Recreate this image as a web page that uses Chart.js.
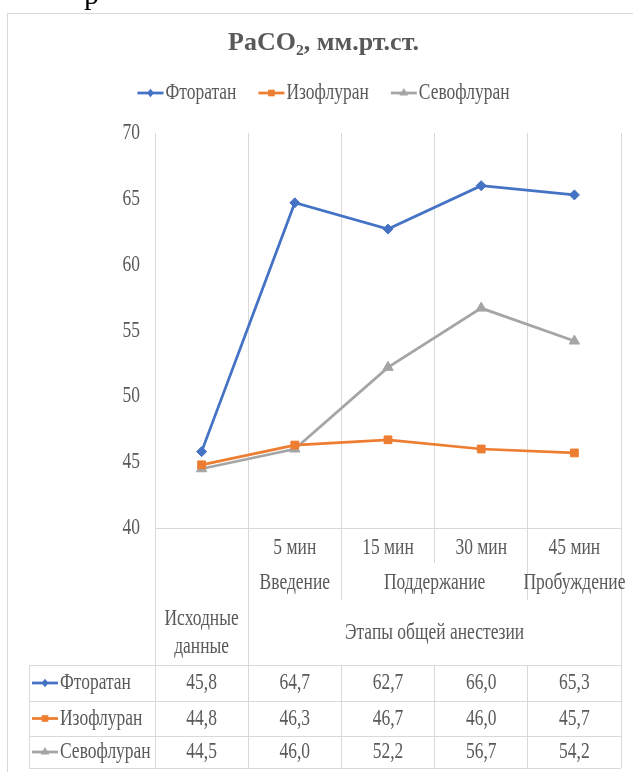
<!DOCTYPE html>
<html>
<head>
<meta charset="utf-8">
<title>PaCO2</title>
<script src="https://cdn.jsdelivr.net/npm/chart.js@4.4.1/dist/chart.umd.min.js"></script>
<style>
  html, body { margin: 0; padding: 0; background: #fff; overflow: hidden; }
  #wrap { position: relative; width: 633px; height: 772px; overflow: hidden; }
  #frag { position: absolute; left: 84px; top: -21px; font: 30px/30px "Liberation Serif", serif; color: #000; }
  canvas { display: block; }
</style>
</head>
<body>
<div id="wrap">
  <div id="frag">р</div>
  <canvas id="chart" width="633" height="772"></canvas>
</div>
<script>
// ---- data ----
const categories = [['Исходные', 'данные'], '5 мин', '15 мин', '30 мин', '45 мин'];
const phaseLabels = ['Введение', 'Поддержание', 'Пробуждение'];
const phaseFirst = [1, 2, 4];
const phaseLast = [1, 3, 4];
const stageLabel = 'Этапы общей анестезии';
const seriesNames = ['Фторатан', 'Изофлуран', 'Севофлуран'];
const ftoratan = [45.8, 64.7, 62.7, 66.0, 65.3];
const isofluran = [44.8, 46.3, 46.7, 46.0, 45.7];
const sevofluran = [44.5, 46.0, 52.2, 56.7, 54.2];
const yMin = 40, yMax = 70, yStep = 5;

// ---- styling ----
const FONT = '"Liberation Serif", "Times New Roman", serif';
const TEXT = '#595959';
const GRID = '#d9d9d9';
const SQUEEZE = 0.76;      // narrow label lettering
const LABEL_SIZE = 23;
const seriesColors = ['#4472C4', '#ED7D31', '#A5A5A5'];
const seriesMarkers = ['rectRot', 'rect', 'triangle'];
const markerRadius = [5, 5.5, 6];
const seriesValues = [ftoratan, isofluran, sevofluran];

// label band / table geometry below the plot
const LEVEL_Y = [548, 583, 633];
const LEVEL_BOTTOM = [563, 600];
const FIRST_CAT_Y = [619, 647];
const TABLE_ROWS = [665, 701, 736, 768];
const TABLE_LEFT = 29;

function squeezed(ctx, text, x, y, align, size, color) {
  ctx.save();
  ctx.font = (size || LABEL_SIZE) + 'px ' + FONT;
  ctx.fillStyle = color || TEXT;
  ctx.textBaseline = 'middle';
  ctx.textAlign = align;
  ctx.translate(x, y);
  ctx.scale(SQUEEZE, 1);
  ctx.fillText(text, 0, 0);
  ctx.restore();
}
function squeezedWidth(ctx, text, size) {
  ctx.save();
  ctx.font = (size || LABEL_SIZE) + 'px ' + FONT;
  const w = ctx.measureText(text).width * SQUEEZE;
  ctx.restore();
  return w;
}
function marker(ctx, style, cx, cy, r, color) {
  ctx.save();
  ctx.fillStyle = color;
  ctx.beginPath();
  if (style === 'rectRot') {
    ctx.moveTo(cx - r * 0.8, cy); ctx.lineTo(cx, cy - r);
    ctx.lineTo(cx + r * 0.8, cy); ctx.lineTo(cx, cy + r);
  } else if (style === 'rect') {
    const h = r * Math.SQRT1_2;
    ctx.rect(cx - h, cy - h, 2 * h, 2 * h);
  } else {
    ctx.moveTo(cx, cy - r);
    ctx.lineTo(cx + r * Math.sin(2 * Math.PI / 3), cy + r * 0.5);
    ctx.lineTo(cx - r * Math.sin(2 * Math.PI / 3), cy + r * 0.5);
  }
  ctx.closePath();
  ctx.fill();
  ctx.restore();
}
const KEY_W = 26;
function legendKey(ctx, k, x, y) {
  ctx.save();
  ctx.strokeStyle = seriesColors[k];
  ctx.lineWidth = 2.75;
  ctx.beginPath();
  ctx.moveTo(x, y); ctx.lineTo(x + KEY_W, y);
  ctx.stroke();
  ctx.restore();
  marker(ctx, seriesMarkers[k], x + KEY_W / 2, y, markerRadius[k] * 0.85, seriesColors[k]);
}
function hline(ctx, x0, x1, y) {
  const Y = Math.round(y - 0.5) + 0.5;
  ctx.beginPath(); ctx.moveTo(x0, Y); ctx.lineTo(x1, Y); ctx.stroke();
}
function vline(ctx, x, y0, y1) {
  const X = Math.round(x - 0.5) + 0.5;
  ctx.beginPath(); ctx.moveTo(X, y0); ctx.lineTo(X, y1); ctx.stroke();
}
const fmt = v => v.toFixed(1).replace('.', ',');

const chartFrame = {
  id: 'chartFrame',
  beforeDraw(chart) {
    const ctx = chart.ctx;
    ctx.save();
    ctx.strokeStyle = GRID;
    ctx.lineWidth = 1;
    ctx.strokeRect(7.5, 13.5, 700, 800);
    ctx.restore();
  }
};

const axisAndTable = {
  id: 'axisAndTable',
  afterDraw(chart) {
    const ctx = chart.ctx;
    const a = chart.chartArea;
    const x = chart.scales.x, y = chart.scales.y;
    const n = categories.length;
    const px = i => x.getPixelForValue(i);
    const edge = i => i === 0 ? a.left : (i === n ? a.right : (px(i - 1) + px(i)) / 2);

    // value-axis labels
    y.ticks.forEach(t => squeezed(ctx, String(t.value), a.left - 15, y.getPixelForValue(t.value), 'right'));

    // legend above the plot
    const legendY = 93, gap = 22;
    const widths = seriesNames.map(s => KEY_W + 2 + squeezedWidth(ctx, s));
    const total = widths.reduce((p, w) => p + w, 0) + gap * (widths.length - 1);
    let lx = (chart.chartArea.right + chart.options.layout.padding.left) / 2 - total / 2;
    seriesNames.forEach((s, k) => {
      legendKey(ctx, k, lx, legendY);
      squeezed(ctx, s, lx + KEY_W + 2, legendY, 'left');
      lx += widths[k] + gap;
    });

    // separators of the category band and the table grid
    ctx.save();
    ctx.strokeStyle = GRID;
    ctx.lineWidth = 1;
    const tableBottom = TABLE_ROWS[TABLE_ROWS.length - 1];
    for (let i = 0; i <= n; i++) {
      let bottom = LEVEL_BOTTOM[0];
      if (phaseFirst.includes(i) || phaseLast.map(k => k + 1).includes(i)) bottom = LEVEL_BOTTOM[1];
      if (i <= 1 || i === n) bottom = tableBottom;
      vline(ctx, edge(i), a.bottom, bottom);
      vline(ctx, edge(i), TABLE_ROWS[0], tableBottom);
    }
    vline(ctx, TABLE_LEFT, TABLE_ROWS[0], tableBottom);
    TABLE_ROWS.forEach(ry => hline(ctx, TABLE_LEFT, a.right, ry));
    ctx.restore();

    // category band text
    for (let i = 1; i < n; i++) squeezed(ctx, categories[i], px(i), LEVEL_Y[0], 'center');
    categories[0].forEach((line, j) => squeezed(ctx, line, px(0), FIRST_CAT_Y[j], 'center'));
    phaseLabels.forEach((p, k) => squeezed(ctx, p, (px(phaseFirst[k]) + px(phaseLast[k])) / 2, LEVEL_Y[1], 'center'));
    squeezed(ctx, stageLabel, (px(1) + px(n - 1)) / 2, LEVEL_Y[2], 'center');

    // data table rows
    seriesNames.forEach((s, k) => {
      const cy = (TABLE_ROWS[k] + TABLE_ROWS[k + 1]) / 2;
      legendKey(ctx, k, TABLE_LEFT + 3, cy);
      squeezed(ctx, s, TABLE_LEFT + KEY_W + 5, cy, 'left');
      seriesValues[k].forEach((v, i) => squeezed(ctx, fmt(v), px(i), cy, 'center'));
    });
  }
};

const datasets = seriesNames.map((name, k) => ({
  label: name,
  data: seriesValues[k],
  borderColor: seriesColors[k],
  backgroundColor: seriesColors[k],
  borderWidth: 2.75,
  pointStyle: seriesMarkers[k],
  pointRadius: markerRadius[k],
  pointBorderWidth: 1,
  pointBorderColor: seriesColors[k],
  pointBackgroundColor: seriesColors[k],
  tension: 0
}));

new Chart(document.getElementById('chart'), {
  type: 'line',
  data: { labels: categories, datasets },
  options: {
    responsive: false,
    animation: false,
    devicePixelRatio: 1,
    layout: { padding: { left: 26, right: 12, top: 0, bottom: 0 } },
    plugins: {
      legend: { display: false },
      tooltip: { enabled: false },
      title: {
        display: true,
        text: 'PaCO₂, мм.рт.ст.',
        color: TEXT,
        font: { family: FONT, size: 26, weight: 'bold' },
        padding: { top: 27.4, bottom: 74.4 }
      }
    },
    scales: {
      x: {
        type: 'category',
        offset: true,
        grid: { display: true, offset: true, color: GRID, lineWidth: 1, drawTicks: false },
        border: { display: true, color: GRID, width: 1 },
        ticks: { display: false },
        afterFit: s => { s.height = 244; }
      },
      y: {
        min: yMin,
        max: yMax,
        ticks: { display: false, stepSize: yStep },
        grid: { display: false },
        border: { display: false },
        afterFit: s => { s.width = 129; }
      }
    }
  },
  plugins: [chartFrame, axisAndTable]
});
</script>
</body>
</html>
